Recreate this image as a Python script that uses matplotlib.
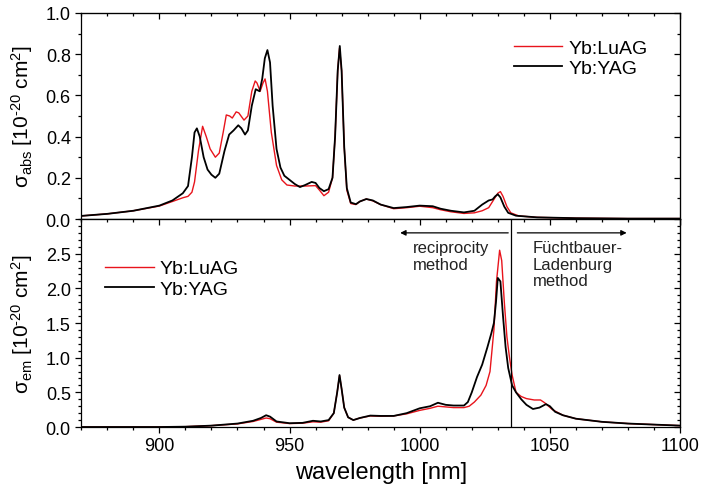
import matplotlib
matplotlib.use("Agg")
import matplotlib.pyplot as plt
from matplotlib.ticker import MultipleLocator

plt.rcParams['font.family'] = ['Liberation Sans', 'DejaVu Sans']
plt.rcParams['mathtext.fontset'] = 'custom'
plt.rcParams['mathtext.rm'] = 'Liberation Sans'
plt.rcParams['mathtext.it'] = 'Liberation Sans'
plt.rcParams['mathtext.bf'] = 'Liberation Sans'

# absorption cross section, Yb:YAG (black)
abs_yag_x = [870, 880, 890, 900, 905, 909, 911, 912.5, 913.5, 914.4, 915.5, 917, 918.5, 920,
             921.5, 923, 925, 926.8, 928.5, 930.3, 931.5, 932.9, 934, 935.5, 937, 938.5, 939.5,
             940.5, 941.5, 942.5, 943.5, 945, 946.5, 948, 950, 952, 954, 956, 958.5, 960, 961.5,
             963.2, 965, 966.5, 967.5, 968.5, 969.3, 970, 971, 972, 973.5, 975.5, 977, 979.5,
             982, 985, 990, 995, 1000, 1005, 1008, 1012, 1017, 1021, 1024, 1026.5, 1028, 1029,
             1030, 1031, 1032.5, 1034, 1037, 1045, 1060, 1080, 1100]
abs_yag_y = [0.015, 0.025, 0.04, 0.065, 0.09, 0.125, 0.16, 0.3, 0.42, 0.44, 0.40, 0.30, 0.24,
             0.215, 0.20, 0.22, 0.33, 0.41, 0.43, 0.455, 0.44, 0.41, 0.43, 0.55, 0.63, 0.62, 0.68,
             0.78, 0.82, 0.76, 0.55, 0.34, 0.25, 0.21, 0.19, 0.17, 0.155, 0.165, 0.18, 0.175,
             0.15, 0.135, 0.145, 0.2, 0.4, 0.72, 0.84, 0.72, 0.35, 0.15, 0.08, 0.072, 0.085,
             0.097, 0.09, 0.07, 0.053, 0.058, 0.065, 0.062, 0.05, 0.04, 0.032, 0.04, 0.07, 0.09,
             0.095, 0.11, 0.12, 0.105, 0.06, 0.03, 0.016, 0.008, 0.004, 0.002, 0.002]

# absorption cross section, Yb:LuAG (red)
abs_luag_x = [870, 880, 890, 900, 905, 909, 911, 912.5, 913.5, 915, 916.6, 918, 919.5, 921.5,
              923, 924.5, 925.7, 927, 928, 929.5, 930.5, 932.5, 934, 935.5, 936.8, 937.5, 938.7,
              939.8, 940.6, 941.5, 943, 945, 947, 949, 952, 956, 960, 961.5, 963.2, 965, 966.5,
              967.5, 968.5, 969.2, 970, 971, 972, 973.5, 975.5, 977, 979.5, 982, 985, 990, 995,
              1000, 1005, 1008, 1012, 1017, 1021, 1024, 1026.5, 1028.5, 1030, 1031, 1032,
              1033.5, 1035, 1038, 1045, 1060, 1080, 1100]
abs_luag_y = [0.015, 0.025, 0.04, 0.063, 0.085, 0.103, 0.11, 0.13, 0.18, 0.33, 0.45, 0.40, 0.34,
              0.30, 0.32, 0.42, 0.505, 0.50, 0.49, 0.52, 0.515, 0.48, 0.50, 0.62, 0.67, 0.66,
              0.62, 0.66, 0.68, 0.62, 0.42, 0.26, 0.19, 0.165, 0.16, 0.16, 0.162, 0.14, 0.113,
              0.13, 0.2, 0.4, 0.72, 0.83, 0.72, 0.35, 0.14, 0.075, 0.07, 0.085, 0.097, 0.088,
              0.07, 0.05, 0.055, 0.062, 0.055, 0.045, 0.035, 0.027, 0.03, 0.04, 0.055, 0.095,
              0.125, 0.133, 0.11, 0.06, 0.03, 0.015, 0.008, 0.004, 0.002, 0.002]

# emission cross section, Yb:YAG (black)
em_yag_x = [870, 900, 910, 920, 930, 936, 939, 941, 942.5, 945, 950, 955, 959, 962, 965, 967,
            968.3, 969.2, 970, 971, 972.5, 974.5, 977, 981, 985, 990, 995, 1000, 1004, 1007,
            1010, 1013, 1017, 1018.5, 1020, 1022, 1024, 1026, 1027.5, 1028.5, 1029.3, 1030,
            1031, 1032, 1033, 1034, 1035.5, 1037, 1039, 1041, 1043.5, 1046, 1048.5, 1050, 1052,
            1055, 1060, 1070, 1080, 1090, 1100]
em_yag_y = [0.0, 0.0, 0.005, 0.02, 0.05, 0.09, 0.13, 0.17, 0.15, 0.08, 0.055, 0.06, 0.09, 0.08,
            0.1, 0.2, 0.5, 0.75, 0.55, 0.28, 0.14, 0.1, 0.13, 0.165, 0.16, 0.16, 0.2, 0.27, 0.3,
            0.35, 0.32, 0.31, 0.31, 0.36, 0.5, 0.72, 0.9, 1.15, 1.35, 1.5, 1.8, 2.15, 2.1, 1.6,
            1.15, 0.85, 0.6, 0.5, 0.4, 0.32, 0.26, 0.28, 0.33, 0.3, 0.22, 0.17, 0.12, 0.075,
            0.05, 0.035, 0.02]

# emission cross section, Yb:LuAG (red)
em_luag_x = [870, 900, 910, 920, 930, 936, 939, 941, 942.5, 945, 950, 955, 959, 962, 965, 967,
             968.3, 969.2, 970, 971, 972.5, 974.5, 977, 981, 985, 990, 995, 1000, 1004, 1007,
             1010, 1013, 1017, 1019, 1021, 1023.5, 1025.5, 1027, 1028.5, 1029.5, 1030.7, 1031.5,
             1032.5, 1033.5, 1034.5, 1035.5, 1037, 1039, 1041, 1044, 1046.4, 1048, 1051, 1055,
             1060, 1070, 1080, 1090, 1100]
em_luag_y = [0.0, 0.0, 0.005, 0.02, 0.045, 0.08, 0.11, 0.13, 0.12, 0.07, 0.05, 0.055, 0.075,
             0.07, 0.09, 0.2, 0.5, 0.74, 0.55, 0.28, 0.14, 0.1, 0.13, 0.16, 0.155, 0.16, 0.19,
             0.24, 0.27, 0.3, 0.29, 0.28, 0.28, 0.3, 0.36, 0.46, 0.6, 0.8, 1.4, 2.1, 2.55, 2.4,
             1.8, 1.3, 1.0, 0.75, 0.5, 0.44, 0.41, 0.39, 0.39, 0.35, 0.25, 0.17, 0.12, 0.075,
             0.05, 0.035, 0.02]

labels = ["Yb:LuAG", "Yb:YAG"]
split_wl = 1035

fig = plt.figure(figsize=(7.02, 4.89), dpi=100)
ax_top = fig.add_axes([0.1158, 0.5501, 0.8529, 0.4213])
ax_bot = fig.add_axes([0.1158, 0.1247, 0.8529, 0.4254], sharex=ax_top)


def style_axes(ax):
    for s in ax.spines.values():
        s.set_linewidth(0.9)
    ax.tick_params(which='both', direction='out', labelsize=13, width=0.9)
    ax.tick_params(which='major', length=4)
    ax.tick_params(which='minor', length=2.2)
    ax.xaxis.set_major_locator(MultipleLocator(50))
    ax.xaxis.set_minor_locator(MultipleLocator(10))
    # inward ticks on the top and right sides
    top = ax.secondary_xaxis('top')
    right = ax.secondary_yaxis('right')
    top.xaxis.set_major_locator(MultipleLocator(50))
    top.xaxis.set_minor_locator(MultipleLocator(10))
    for sec in (top, right):
        sec.tick_params(which='both', direction='in', width=0.9, labeltop=False,
                        labelright=False)
        sec.tick_params(which='major', length=4)
        sec.tick_params(which='minor', length=2.2)
    return right


unit = r' [10$^{\text{-20}}$ cm$^{\text{2}}$]'

# top panel: absorption
ax_top.plot(abs_luag_x, abs_luag_y, color='#e8141c', lw=1.0, label=labels[0])
ax_top.plot(abs_yag_x, abs_yag_y, color='black', lw=1.3, label=labels[1])
ax_top.set_xlim(870, 1100)
ax_top.set_ylim(0, 1.0)
r = style_axes(ax_top)
ax_top.yaxis.set_major_locator(MultipleLocator(0.2))
ax_top.yaxis.set_minor_locator(MultipleLocator(0.1))
r.yaxis.set_major_locator(MultipleLocator(0.2))
r.yaxis.set_minor_locator(MultipleLocator(0.1))
ax_top.yaxis.set_major_formatter(plt.FormatStrFormatter('%.1f'))
ax_top.tick_params(labelbottom=False)
ax_top.set_ylabel(r'σ$_{\text{abs}}$' + unit, fontsize=15, labelpad=8)
ax_top.legend(loc='upper right', bbox_to_anchor=(0.965, 0.93), frameon=False, fontsize=14,
              handlelength=2.5, handletextpad=0.3, labelspacing=0.15, borderaxespad=0.2)

# bottom panel: emission
ax_bot.plot(em_luag_x, em_luag_y, color='#e8141c', lw=1.0, label=labels[0])
ax_bot.plot(em_yag_x, em_yag_y, color='black', lw=1.3, label=labels[1])
ax_bot.set_ylim(0, 3.0)
r = style_axes(ax_bot)
ax_bot.set_yticks([0.0, 0.5, 1.0, 1.5, 2.0, 2.5])
ax_bot.yaxis.set_minor_locator(MultipleLocator(0.1))
r.set_yticks([0.0, 0.5, 1.0, 1.5, 2.0, 2.5, 3.0])
r.yaxis.set_minor_locator(MultipleLocator(0.1))
ax_bot.yaxis.set_major_formatter(plt.FormatStrFormatter('%.1f'))
ax_bot.set_xticks([900, 950, 1000, 1050, 1100])
ax_bot.set_ylabel(r'σ$_{\text{em}}$' + unit, fontsize=15, labelpad=8)
ax_bot.set_xlabel('wavelength [nm]', fontsize=17, labelpad=5)
ax_bot.legend(loc='upper left', bbox_to_anchor=(0.02, 0.86), frameon=False, fontsize=14,
              handlelength=2.5, handletextpad=0.3, labelspacing=0.15, borderaxespad=0.2)

ax_bot.axvline(split_wl, color='black', lw=0.9)
ax_bot.annotate('', xy=(992.5, 2.8), xytext=(1034, 2.8),
                arrowprops=dict(arrowstyle='-|>', color='black', lw=0.9,
                                mutation_scale=8, shrinkA=0, shrinkB=0))
ax_bot.annotate('', xy=(1079.5, 2.8), xytext=(1037.5, 2.8),
                arrowprops=dict(arrowstyle='-|>', color='black', lw=0.9,
                                mutation_scale=8, shrinkA=0, shrinkB=0))
ax_bot.text(997.5, 2.7, 'reciprocity\nmethod', fontsize=12, va='top', ha='left',
            linespacing=1.15, color='#222222')
ax_bot.text(1043.5, 2.7, 'Füchtbauer-\nLadenburg\nmethod', fontsize=12, va='top', ha='left',
            linespacing=1.15, color='#222222')

fig.savefig('out.png', dpi=100)
